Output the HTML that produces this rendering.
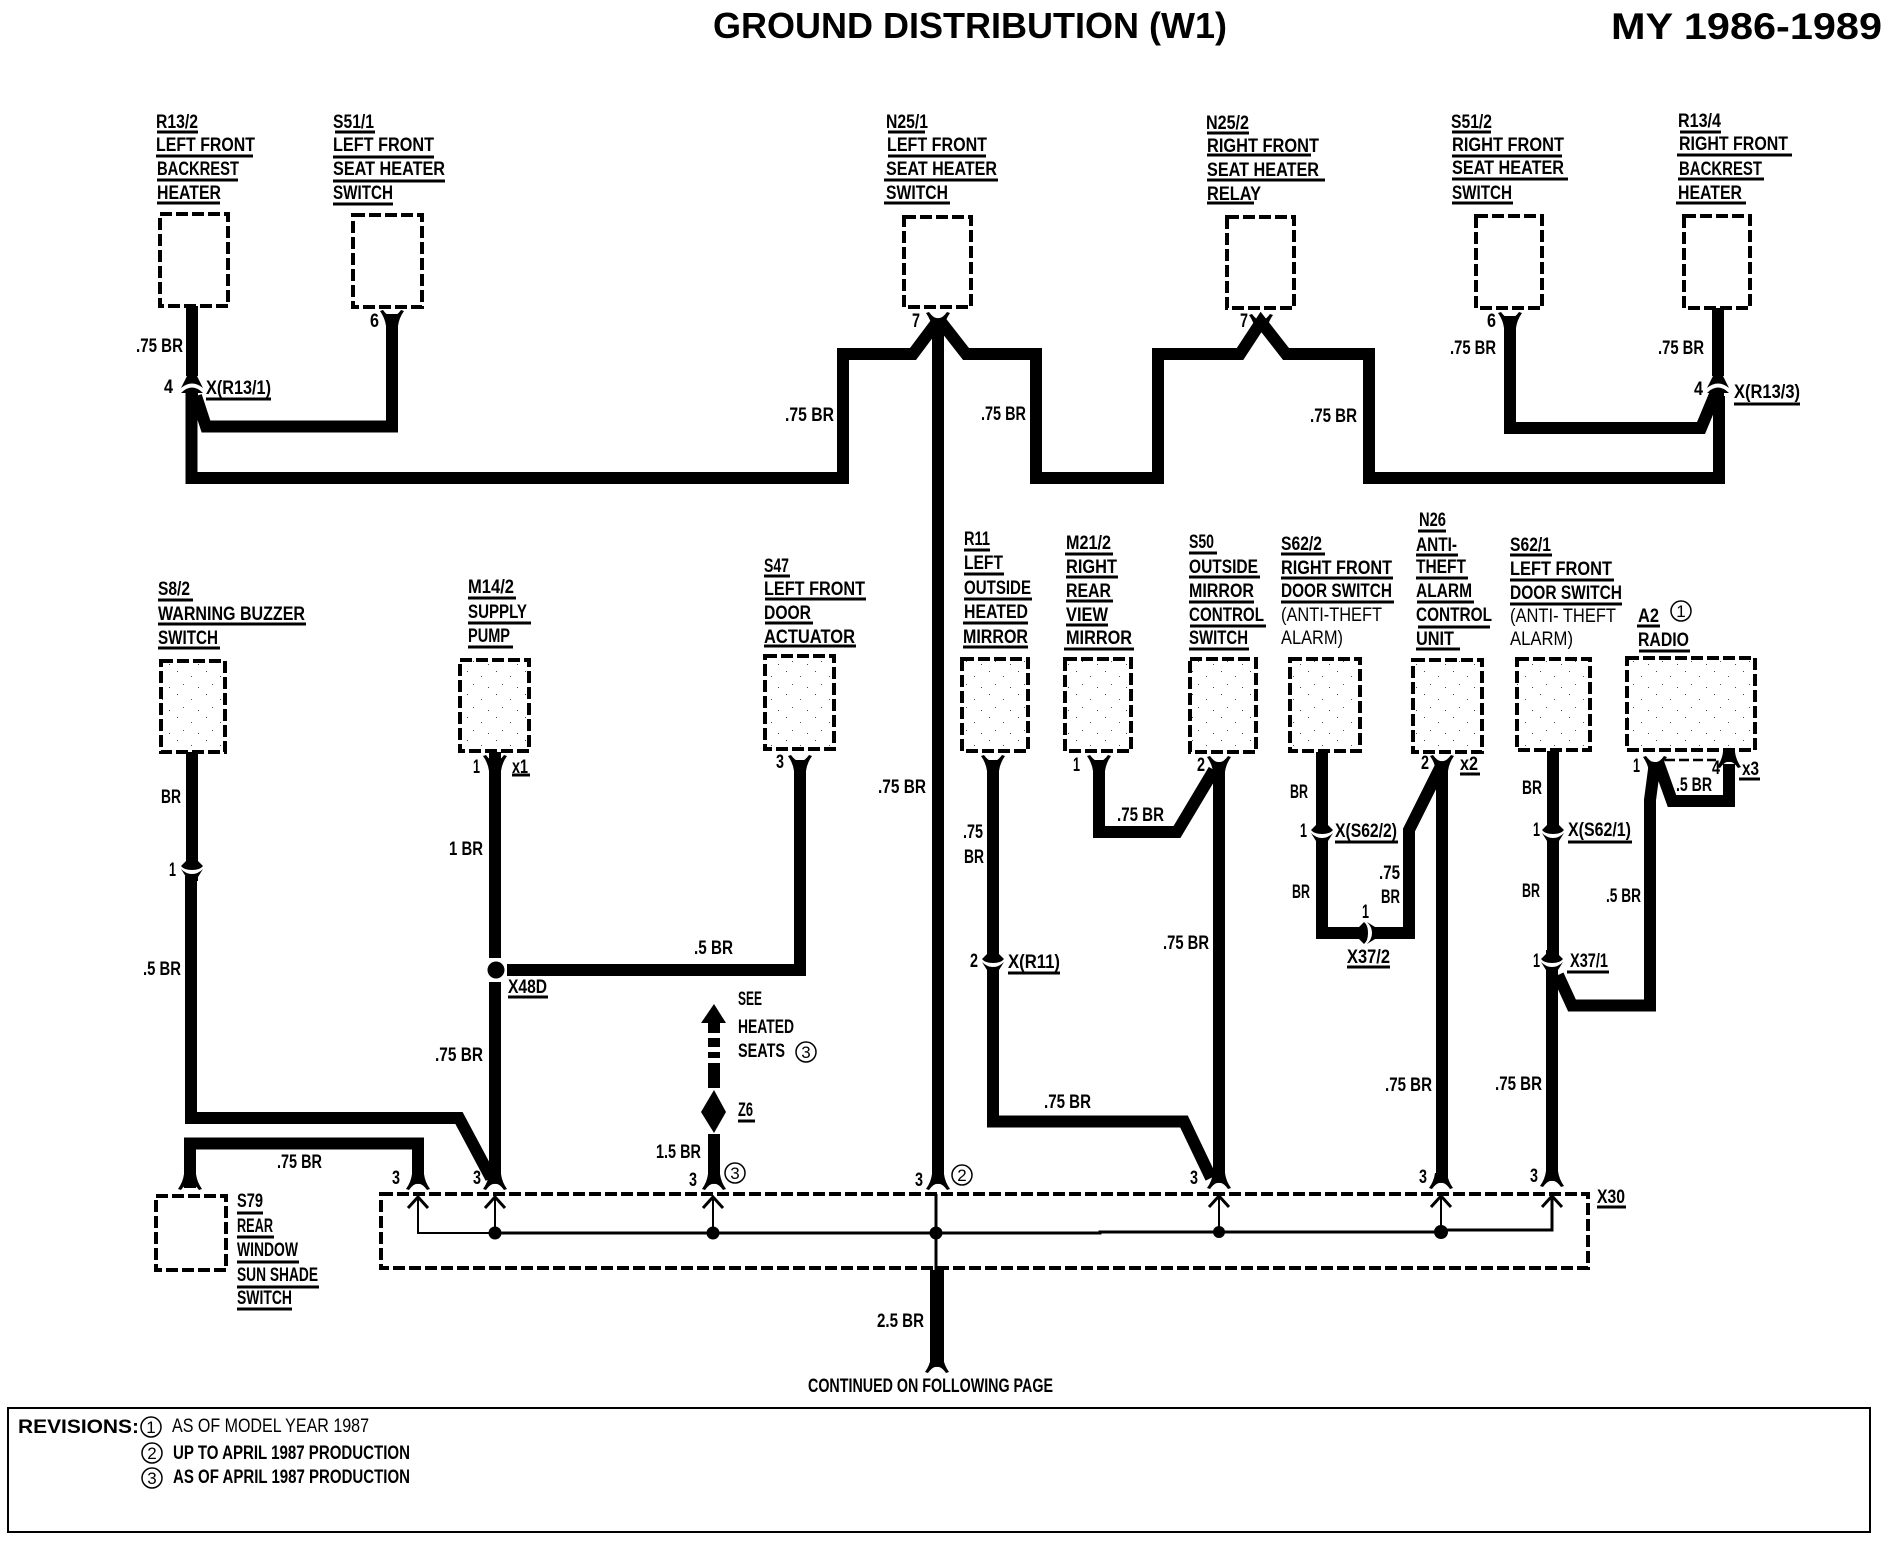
<!DOCTYPE html>
<html><head><meta charset="utf-8"><title>Ground Distribution (W1)</title>
<style>
html,body{margin:0;padding:0;background:#fff}
svg{display:block}
text{font-family:"Liberation Sans",sans-serif;font-weight:bold;font-size:19px;fill:#000}
.w{fill:none;stroke:#000;stroke-width:12;stroke-linejoin:miter}
.b{fill:url(#st);stroke:#000;stroke-width:4;stroke-dasharray:12 4}
.e{fill:none;stroke:#000;stroke-width:4;stroke-dasharray:12 4}
.u{fill:none;stroke:#000;stroke-width:3}
.c{fill:#fff;stroke:#000;stroke-width:1.5}
.n{font-weight:normal}
.k{font-size:17px;font-weight:normal}
</style></head><body>
<svg xmlns="http://www.w3.org/2000/svg" width="1890" height="1552" viewBox="0 0 1890 1552">
<defs>
<pattern id="st" width="29" height="23" patternUnits="userSpaceOnUse"><rect x="3" y="4" width="1" height="1" fill="#444"/><rect x="17" y="9" width="1" height="1" fill="#555"/><rect x="9" y="17" width="1" height="1" fill="#555"/><rect x="24" y="20" width="1" height="1" fill="#444"/></pattern>
<path id="fd" d="M-6-9H6Q7-1 12 6L9 7Q4 0 0 1Q-4 0-9 7L-12 6Q-7-1-6-9Z"/>
<path id="fu" d="M-6 9H6Q7 1 12-6L9-7Q4 0 0-1Q-4 0-9-7L-12-6Q-7 1-6 9Z"/>
<g id="cn"><path d="M-6-12H6V-8L11-3Q8 1 0 1Q-8 1-11-3L-6-8Z"/><path d="M-11 0Q-6 5 0 5Q6 5 11 0L6 8V12H-6V8Z"/></g>
<g id="ca"><path d="M-5-12H5V-9L11 3Q0-6-11 3L-5-9Z"/><path d="M-11 8Q0-3 11 8L6 8V14H-6V8Z"/></g>
<path id="ar" d="M-10 11L0 0L10 11" fill="none" stroke="#000" stroke-width="3"/>
</defs>
<rect width="1890" height="1552" fill="#fff"/>

<!-- title -->
<text x="713" y="38" style="font-size:36px" textLength="514" lengthAdjust="spacingAndGlyphs">GROUND DISTRIBUTION (W1)</text>
<text x="1611" y="39" style="font-size:37px" textLength="271" lengthAdjust="spacingAndGlyphs">MY 1986-1989</text>

<!-- boxes -->
<rect class="e" x="160" y="214" width="68" height="92"/>
<rect class="e" x="353" y="215" width="69" height="92"/>
<rect class="e" x="904" y="217" width="67" height="90"/>
<rect class="e" x="1227" y="217" width="67" height="91"/>
<rect class="e" x="1476" y="216" width="66" height="92"/>
<rect class="e" x="1684" y="216" width="66" height="92"/>
<rect class="b" x="161" y="661" width="64" height="91"/>
<rect class="b" x="460" y="660" width="69" height="91"/>
<rect class="b" x="765" y="656" width="69" height="93"/>
<rect class="b" x="962" y="659" width="66" height="92"/>
<rect class="b" x="1065" y="659" width="66" height="92"/>
<rect class="b" x="1190" y="659" width="66" height="93"/>
<rect class="b" x="1290" y="659" width="70" height="92"/>
<rect class="b" x="1413" y="660" width="69" height="92"/>
<rect class="b" x="1517" y="659" width="73" height="91"/>
<rect class="b" x="1627" y="658" width="128" height="92"/>
<rect class="e" x="156" y="1196" width="70" height="74"/>
<path class="e" d="M381 1194H1588V1268H381Z"/>

<!-- wires top -->
<path class="w" d="M192 306V376"/>
<path class="w" d="M191.500 392V478H843V354H913L937 322"/>
<path class="w" d="M196 396L206 426.500H392V314"/>
<path class="w" d="M938 322V1178"/>
<path class="w" d="M941 322L966 354H1036V478H1158V354H1240L1261 322L1286 354H1369V478H1719V396"/>
<path class="w" d="M1510 316V428H1701L1716 392"/>
<path class="w" d="M1718 308V376"/>

<!-- wires lower left -->
<path class="w" d="M192 752V860"/>
<path class="w" d="M191 876V1118H459L491 1178"/>
<path class="w" d="M190 1188V1143.500H418V1180"/>
<path class="w" d="M495 752V958M495 982V1178"/>
<path class="w" d="M507 970H800V760"/>
<circle cx="496" cy="970" r="8.500"/>
<path class="w" d="M714 1134V1178"/>
<path d="M714 1004L726 1023H720V1033H708V1023H701Z"/>
<path d="M708 1038H720V1047H708ZM708 1052H720V1058H708ZM708 1063H720V1088H708Z"/>
<path d="M714 1090L726 1112L714 1133L701 1112Z"/>
<path d="M930 1270H944V1364H930Z"/>

<!-- wires lower right -->
<path class="w" d="M993 760V955M993 969V1121.500H1184L1211 1178"/>
<path class="w" d="M1099 760V832H1177L1214 770"/>
<path class="w" d="M1219 762V1178"/>
<path class="w" d="M1322 752V825M1322 838V933H1358M1376 933H1409V830L1442 764"/>
<path class="w" d="M1442 762V1178"/>
<path class="w" d="M1553 751V825M1553 838V955M1552 969V1176"/>
<path class="w" d="M1558 975L1572 1005.500H1650V800L1655 762"/>
<path class="w" d="M1658 762L1672 801H1729V764"/>
<path d="M1665 760H1716" stroke="#000" stroke-width="2.500" stroke-dasharray="10 4" fill="none"/>

<!-- connector glyphs -->
<use href="#cn" transform="rotate(-90 1367 933) translate(1367 933)"/>
<use href="#ca" x="192" y="385"/>
<use href="#ca" x="1718" y="385"/>
<use href="#cn" x="192" y="869"/>
<use href="#cn" x="993" y="962"/>
<use href="#cn" x="1322" y="833"/>
<use href="#cn" x="1553" y="833"/>
<use href="#cn" x="1552" y="962"/>
<use href="#fu" x="392" y="317"/>
<use href="#fu" x="938" y="319"/>
<use href="#fu" x="1261" y="321"/>
<use href="#fu" x="1510" y="319"/>
<use href="#fu" x="495" y="762"/>
<use href="#fu" x="800" y="762"/>
<use href="#fu" x="993" y="762"/>
<use href="#fu" x="1099" y="762"/>
<use href="#fu" x="1219" y="763"/>
<use href="#fu" x="1442" y="762"/>
<use href="#fu" x="1655" y="763"/>
<use href="#fd" x="1729" y="761"/>
<use href="#fd" x="190" y="1183"/>
<use href="#fd" x="418" y="1183"/>
<use href="#fd" x="495" y="1183"/>
<use href="#fd" x="714" y="1183"/>
<use href="#fd" x="938" y="1183"/>
<use href="#fd" x="1219" y="1182"/>
<use href="#fd" x="1441" y="1182"/>
<use href="#fd" x="1552" y="1180"/>
<use href="#fd" x="937" y="1366"/>

<!-- X30 interior -->
<path d="M418 1198V1233H495" fill="none" stroke="#000" stroke-width="2"/>
<path d="M495 1233H1100V1232H1441V1230H1552V1197" fill="none" stroke="#000" stroke-width="3"/>
<path d="M495 1198V1233M713 1198V1233M1219 1198V1233M1441 1198V1233" fill="none" stroke="#000" stroke-width="2"/>
<path d="M936 1194V1270" fill="none" stroke="#000" stroke-width="3"/>
<circle cx="495" cy="1233" r="6.500"/><circle cx="713" cy="1233" r="6.500"/><circle cx="936" cy="1233" r="6.500"/><circle cx="1219" cy="1232" r="6"/><circle cx="1441" cy="1232" r="7"/>
<use href="#ar" x="418" y="1197"/><use href="#ar" x="495" y="1197"/><use href="#ar" x="713" y="1197"/><use href="#ar" x="1219" y="1196"/><use href="#ar" x="1441" y="1196"/><use href="#ar" x="1552" y="1196"/>

<!-- revisions box -->
<rect x="8" y="1408" width="1862" height="124" fill="none" stroke="#000" stroke-width="2"/>

<!-- underlines -->
<path class="u" d="M157 132H198M156 156H253M157 180H238M157 203H220
M335 132H375M333 157H434M333 181H445M333 204H393
M888 132H925M888 156H986M884 180H998M884 203H950
M1207 133H1249M1207 155H1311M1207 180H1325M1207 203H1254
M1452 132H1491M1452 156H1562M1452 179H1568M1452 203H1513
M1680 132H1721M1677 155H1792M1678 179H1764M1676 203H1746
M206 399H271M1734 404H1800
M158 600H193M158 624H306M158 648H220
M468 598H516M468 623H531M468 647H513
M764 576H790M765 599H866M765 623H813M764 646H856
M512 775H530M508 997H548
M738 1121H755
M964 550H990M964 574H1004M964 599H1032M963 623H1028M963 647H1028
M1065 554H1113M1066 577H1118M1066 601H1113M1066 625H1108M1064 649H1134
M1189 553H1217M1189 577H1260M1189 602H1254M1190 626H1266M1189 649H1249
M1281 554H1325M1281 578H1393M1281 602H1394
M1418 531H1446M1416 555H1458M1416 578H1468M1417 602H1474M1418 627H1490M1416 649H1460
M1510 555H1552M1510 580H1614M1510 604H1622
M1637 626H1660M1639 651H1690
M1460 774H1480M1739 779H1760
M1008 973H1060M1335 842H1398M1568 842H1632M1347 967H1390M1567 972H1609
M237 1213H263M237 1237H274M237 1262H299M237 1287H319M237 1309H292
M1597 1207H1626"/>

<!-- top labels -->
<text x="156" y="128" textLength="42" lengthAdjust="spacingAndGlyphs">R13/2</text>
<text x="156" y="151" textLength="99" lengthAdjust="spacingAndGlyphs">LEFT FRONT</text>
<text x="157" y="175" textLength="82" lengthAdjust="spacingAndGlyphs">BACKREST</text>
<text x="157" y="199" textLength="64" lengthAdjust="spacingAndGlyphs">HEATER</text>
<text x="333" y="128" textLength="41" lengthAdjust="spacingAndGlyphs">S51/1</text>
<text x="333" y="151" textLength="101" lengthAdjust="spacingAndGlyphs">LEFT FRONT</text>
<text x="333" y="175" textLength="112" lengthAdjust="spacingAndGlyphs">SEAT HEATER</text>
<text x="333" y="199" textLength="60" lengthAdjust="spacingAndGlyphs">SWITCH</text>
<text x="886" y="128" textLength="42" lengthAdjust="spacingAndGlyphs">N25/1</text>
<text x="887" y="151" textLength="100" lengthAdjust="spacingAndGlyphs">LEFT FRONT</text>
<text x="886" y="175" textLength="111" lengthAdjust="spacingAndGlyphs">SEAT HEATER</text>
<text x="886" y="199" textLength="62" lengthAdjust="spacingAndGlyphs">SWITCH</text>
<text x="1206" y="129" textLength="43" lengthAdjust="spacingAndGlyphs">N25/2</text>
<text x="1207" y="152" textLength="112" lengthAdjust="spacingAndGlyphs">RIGHT FRONT</text>
<text x="1207" y="176" textLength="112" lengthAdjust="spacingAndGlyphs">SEAT HEATER</text>
<text x="1207" y="200" textLength="54" lengthAdjust="spacingAndGlyphs">RELAY</text>
<text x="1451" y="128" textLength="41" lengthAdjust="spacingAndGlyphs">S51/2</text>
<text x="1452" y="151" textLength="112" lengthAdjust="spacingAndGlyphs">RIGHT FRONT</text>
<text x="1452" y="174" textLength="112" lengthAdjust="spacingAndGlyphs">SEAT HEATER</text>
<text x="1452" y="199" textLength="60" lengthAdjust="spacingAndGlyphs">SWITCH</text>
<text x="1678" y="127" textLength="43" lengthAdjust="spacingAndGlyphs">R13/4</text>
<text x="1679" y="150" textLength="109" lengthAdjust="spacingAndGlyphs">RIGHT FRONT</text>
<text x="1679" y="175" textLength="83" lengthAdjust="spacingAndGlyphs">BACKREST</text>
<text x="1678" y="199" textLength="64" lengthAdjust="spacingAndGlyphs">HEATER</text>

<!-- top wire labels -->
<text x="136" y="352" textLength="47" lengthAdjust="spacingAndGlyphs">.75 BR</text>
<text x="164" y="393" textLength="9" lengthAdjust="spacingAndGlyphs">4</text>
<text x="206" y="394" textLength="65" lengthAdjust="spacingAndGlyphs">X(R13/1)</text>
<text x="370" y="327" textLength="9" lengthAdjust="spacingAndGlyphs">6</text>
<text x="785" y="421" textLength="49" lengthAdjust="spacingAndGlyphs">.75 BR</text>
<text x="912" y="327" textLength="8" lengthAdjust="spacingAndGlyphs">7</text>
<text x="981" y="420" textLength="45" lengthAdjust="spacingAndGlyphs">.75 BR</text>
<text x="1240" y="327" textLength="8" lengthAdjust="spacingAndGlyphs">7</text>
<text x="1310" y="422" textLength="47" lengthAdjust="spacingAndGlyphs">.75 BR</text>
<text x="1487" y="327" textLength="9" lengthAdjust="spacingAndGlyphs">6</text>
<text x="1450" y="354" textLength="46" lengthAdjust="spacingAndGlyphs">.75 BR</text>
<text x="1658" y="354" textLength="46" lengthAdjust="spacingAndGlyphs">.75 BR</text>
<text x="1694" y="395" textLength="9" lengthAdjust="spacingAndGlyphs">4</text>
<text x="1734" y="398" textLength="66" lengthAdjust="spacingAndGlyphs">X(R13/3)</text>

<!-- lower left labels -->
<text x="158" y="595" textLength="32" lengthAdjust="spacingAndGlyphs">S8/2</text>
<text x="158" y="620" textLength="147" lengthAdjust="spacingAndGlyphs">WARNING BUZZER</text>
<text x="158" y="644" textLength="60" lengthAdjust="spacingAndGlyphs">SWITCH</text>
<text x="468" y="593" textLength="46" lengthAdjust="spacingAndGlyphs">M14/2</text>
<text x="468" y="618" textLength="59" lengthAdjust="spacingAndGlyphs">SUPPLY</text>
<text x="468" y="642" textLength="42" lengthAdjust="spacingAndGlyphs">PUMP</text>
<text x="764" y="572" textLength="25" lengthAdjust="spacingAndGlyphs">S47</text>
<text x="764" y="595" textLength="101" lengthAdjust="spacingAndGlyphs">LEFT FRONT</text>
<text x="764" y="619" textLength="47" lengthAdjust="spacingAndGlyphs">DOOR</text>
<text x="764" y="643" textLength="91" lengthAdjust="spacingAndGlyphs">ACTUATOR</text>
<text x="473" y="773" textLength="7" lengthAdjust="spacingAndGlyphs">1</text>
<text x="512" y="773" textLength="16" lengthAdjust="spacingAndGlyphs">x1</text>
<text x="776" y="768" textLength="8" lengthAdjust="spacingAndGlyphs">3</text>
<text x="878" y="793" textLength="48" lengthAdjust="spacingAndGlyphs">.75 BR</text>
<text x="161" y="803" textLength="20" lengthAdjust="spacingAndGlyphs">BR</text>
<text x="169" y="876" textLength="7" lengthAdjust="spacingAndGlyphs">1</text>
<text x="449" y="855" textLength="34" lengthAdjust="spacingAndGlyphs">1 BR</text>
<text x="143" y="975" textLength="38" lengthAdjust="spacingAndGlyphs">.5 BR</text>
<text x="694" y="954" textLength="39" lengthAdjust="spacingAndGlyphs">.5 BR</text>
<text x="508" y="993" textLength="39" lengthAdjust="spacingAndGlyphs">X48D</text>
<text x="738" y="1005" textLength="24" lengthAdjust="spacingAndGlyphs">SEE</text>
<text x="738" y="1033" textLength="56" lengthAdjust="spacingAndGlyphs">HEATED</text>
<text x="738" y="1057" textLength="47" lengthAdjust="spacingAndGlyphs">SEATS</text>
<text x="738" y="1116" textLength="15" lengthAdjust="spacingAndGlyphs">Z6</text>
<text x="435" y="1061" textLength="48" lengthAdjust="spacingAndGlyphs">.75 BR</text>
<text x="277" y="1168" textLength="45" lengthAdjust="spacingAndGlyphs">.75 BR</text>
<text x="656" y="1158" textLength="45" lengthAdjust="spacingAndGlyphs">1.5 BR</text>
<text x="392" y="1184" textLength="8" lengthAdjust="spacingAndGlyphs">3</text>
<text x="473" y="1184" textLength="8" lengthAdjust="spacingAndGlyphs">3</text>
<text x="689" y="1186" textLength="8" lengthAdjust="spacingAndGlyphs">3</text>
<text x="915" y="1186" textLength="8" lengthAdjust="spacingAndGlyphs">3</text>
<text x="237" y="1207" textLength="26" lengthAdjust="spacingAndGlyphs">S79</text>
<text x="237" y="1232" textLength="36" lengthAdjust="spacingAndGlyphs">REAR</text>
<text x="237" y="1256" textLength="61" lengthAdjust="spacingAndGlyphs">WINDOW</text>
<text x="237" y="1281" textLength="81" lengthAdjust="spacingAndGlyphs">SUN SHADE</text>
<text x="237" y="1304" textLength="55" lengthAdjust="spacingAndGlyphs">SWITCH</text>
<text x="877" y="1327" textLength="47" lengthAdjust="spacingAndGlyphs">2.5 BR</text>
<text x="808" y="1392" textLength="245" lengthAdjust="spacingAndGlyphs">CONTINUED ON FOLLOWING PAGE</text>

<!-- lower right labels -->
<text x="964" y="545" textLength="26" lengthAdjust="spacingAndGlyphs">R11</text>
<text x="964" y="569" textLength="39" lengthAdjust="spacingAndGlyphs">LEFT</text>
<text x="964" y="594" textLength="67" lengthAdjust="spacingAndGlyphs">OUTSIDE</text>
<text x="964" y="618" textLength="64" lengthAdjust="spacingAndGlyphs">HEATED</text>
<text x="963" y="643" textLength="65" lengthAdjust="spacingAndGlyphs">MIRROR</text>
<text x="1066" y="549" textLength="45" lengthAdjust="spacingAndGlyphs">M21/2</text>
<text x="1066" y="573" textLength="51" lengthAdjust="spacingAndGlyphs">RIGHT</text>
<text x="1066" y="597" textLength="45" lengthAdjust="spacingAndGlyphs">REAR</text>
<text x="1066" y="621" textLength="42" lengthAdjust="spacingAndGlyphs">VIEW</text>
<text x="1066" y="644" textLength="66" lengthAdjust="spacingAndGlyphs">MIRROR</text>
<text x="1189" y="548" textLength="25" lengthAdjust="spacingAndGlyphs">S50</text>
<text x="1189" y="573" textLength="69" lengthAdjust="spacingAndGlyphs">OUTSIDE</text>
<text x="1189" y="597" textLength="65" lengthAdjust="spacingAndGlyphs">MIRROR</text>
<text x="1189" y="621" textLength="75" lengthAdjust="spacingAndGlyphs">CONTROL</text>
<text x="1189" y="644" textLength="59" lengthAdjust="spacingAndGlyphs">SWITCH</text>
<text x="1281" y="550" textLength="41" lengthAdjust="spacingAndGlyphs">S62/2</text>
<text x="1281" y="574" textLength="111" lengthAdjust="spacingAndGlyphs">RIGHT FRONT</text>
<text x="1281" y="597" textLength="111" lengthAdjust="spacingAndGlyphs">DOOR SWITCH</text>
<text class="n" x="1281" y="621" textLength="101" lengthAdjust="spacingAndGlyphs">(ANTI-THEFT</text>
<text class="n" x="1281" y="644" textLength="62" lengthAdjust="spacingAndGlyphs">ALARM)</text>
<text x="1419" y="526" textLength="27" lengthAdjust="spacingAndGlyphs">N26</text>
<text x="1416" y="551" textLength="41" lengthAdjust="spacingAndGlyphs">ANTI-</text>
<text x="1416" y="573" textLength="50" lengthAdjust="spacingAndGlyphs">THEFT</text>
<text x="1416" y="597" textLength="56" lengthAdjust="spacingAndGlyphs">ALARM</text>
<text x="1416" y="621" textLength="76" lengthAdjust="spacingAndGlyphs">CONTROL</text>
<text x="1416" y="645" textLength="38" lengthAdjust="spacingAndGlyphs">UNIT</text>
<text x="1510" y="551" textLength="41" lengthAdjust="spacingAndGlyphs">S62/1</text>
<text x="1510" y="575" textLength="102" lengthAdjust="spacingAndGlyphs">LEFT FRONT</text>
<text x="1510" y="599" textLength="112" lengthAdjust="spacingAndGlyphs">DOOR SWITCH</text>
<text class="n" x="1510" y="622" textLength="106" lengthAdjust="spacingAndGlyphs">(ANTI- THEFT</text>
<text class="n" x="1510" y="645" textLength="63" lengthAdjust="spacingAndGlyphs">ALARM)</text>
<text x="1638" y="622" textLength="21" lengthAdjust="spacingAndGlyphs">A2</text>
<text x="1638" y="646" textLength="51" lengthAdjust="spacingAndGlyphs">RADIO</text>
<text x="1073" y="771" textLength="7" lengthAdjust="spacingAndGlyphs">1</text>
<text x="1197" y="771" textLength="8" lengthAdjust="spacingAndGlyphs">2</text>
<text x="1421" y="769" textLength="8" lengthAdjust="spacingAndGlyphs">2</text>
<text x="1460" y="770" textLength="18" lengthAdjust="spacingAndGlyphs">x2</text>
<text x="1633" y="772" textLength="7" lengthAdjust="spacingAndGlyphs">1</text>
<text x="1712" y="774" textLength="8" lengthAdjust="spacingAndGlyphs">4</text>
<text x="1742" y="775" textLength="17" lengthAdjust="spacingAndGlyphs">x3</text>
<text x="1676" y="791" textLength="36" lengthAdjust="spacingAndGlyphs">.5 BR</text>
<text x="1117" y="821" textLength="47" lengthAdjust="spacingAndGlyphs">.75 BR</text>
<text x="963" y="838" textLength="20" lengthAdjust="spacingAndGlyphs">.75</text>
<text x="964" y="863" textLength="20" lengthAdjust="spacingAndGlyphs">BR</text>
<text x="1290" y="798" textLength="18" lengthAdjust="spacingAndGlyphs">BR</text>
<text x="1300" y="837" textLength="7" lengthAdjust="spacingAndGlyphs">1</text>
<text x="1335" y="837" textLength="62" lengthAdjust="spacingAndGlyphs">X(S62/2)</text>
<text x="1292" y="898" textLength="18" lengthAdjust="spacingAndGlyphs">BR</text>
<text x="1379" y="879" textLength="21" lengthAdjust="spacingAndGlyphs">.75</text>
<text x="1381" y="903" textLength="19" lengthAdjust="spacingAndGlyphs">BR</text>
<text x="1362" y="918" textLength="7" lengthAdjust="spacingAndGlyphs">1</text>
<text x="1347" y="963" textLength="43" lengthAdjust="spacingAndGlyphs">X37/2</text>
<text x="1522" y="794" textLength="20" lengthAdjust="spacingAndGlyphs">BR</text>
<text x="1533" y="836" textLength="7" lengthAdjust="spacingAndGlyphs">1</text>
<text x="1568" y="836" textLength="63" lengthAdjust="spacingAndGlyphs">X(S62/1)</text>
<text x="1522" y="897" textLength="18" lengthAdjust="spacingAndGlyphs">BR</text>
<text x="1606" y="902" textLength="35" lengthAdjust="spacingAndGlyphs">.5 BR</text>
<text x="1533" y="967" textLength="7" lengthAdjust="spacingAndGlyphs">1</text>
<text x="1570" y="967" textLength="38" lengthAdjust="spacingAndGlyphs">X37/1</text>
<text x="970" y="967" textLength="8" lengthAdjust="spacingAndGlyphs">2</text>
<text x="1008" y="968" textLength="52" lengthAdjust="spacingAndGlyphs">X(R11)</text>
<text x="1163" y="949" textLength="46" lengthAdjust="spacingAndGlyphs">.75 BR</text>
<text x="1044" y="1108" textLength="47" lengthAdjust="spacingAndGlyphs">.75 BR</text>
<text x="1385" y="1091" textLength="47" lengthAdjust="spacingAndGlyphs">.75 BR</text>
<text x="1495" y="1090" textLength="47" lengthAdjust="spacingAndGlyphs">.75 BR</text>
<text x="1190" y="1184" textLength="8" lengthAdjust="spacingAndGlyphs">3</text>
<text x="1419" y="1183" textLength="8" lengthAdjust="spacingAndGlyphs">3</text>
<text x="1530" y="1182" textLength="8" lengthAdjust="spacingAndGlyphs">3</text>
<text x="1597" y="1203" textLength="28" lengthAdjust="spacingAndGlyphs">X30</text>

<!-- circled numbers -->
<g text-anchor="middle">
<circle class="c" cx="1681" cy="611" r="10"/><text x="1681" y="617" class="k">1</text>
<circle class="c" cx="806" cy="1052" r="10"/><text x="806" y="1058" class="k">3</text>
<circle class="c" cx="735" cy="1173" r="10"/><text x="735" y="1179" class="k">3</text>
<circle class="c" cx="962" cy="1175" r="10"/><text x="962" y="1181" class="k">2</text>
<circle class="c" cx="151" cy="1427" r="10"/><text x="151" y="1433" class="k">1</text>
<circle class="c" cx="152" cy="1453" r="10"/><text x="152" y="1459" class="k">2</text>
<circle class="c" cx="152" cy="1478" r="10"/><text x="152" y="1484" class="k">3</text>
</g>

<!-- revisions -->
<text x="18" y="1433" textLength="121" lengthAdjust="spacingAndGlyphs">REVISIONS:</text>
<text class="n" x="172" y="1432" textLength="197" lengthAdjust="spacingAndGlyphs">AS OF MODEL YEAR 1987</text>
<text x="173" y="1459" textLength="237" lengthAdjust="spacingAndGlyphs">UP TO APRIL 1987 PRODUCTION</text>
<text x="173" y="1483" textLength="237" lengthAdjust="spacingAndGlyphs">AS OF APRIL 1987 PRODUCTION</text>
</svg>
</body></html>
